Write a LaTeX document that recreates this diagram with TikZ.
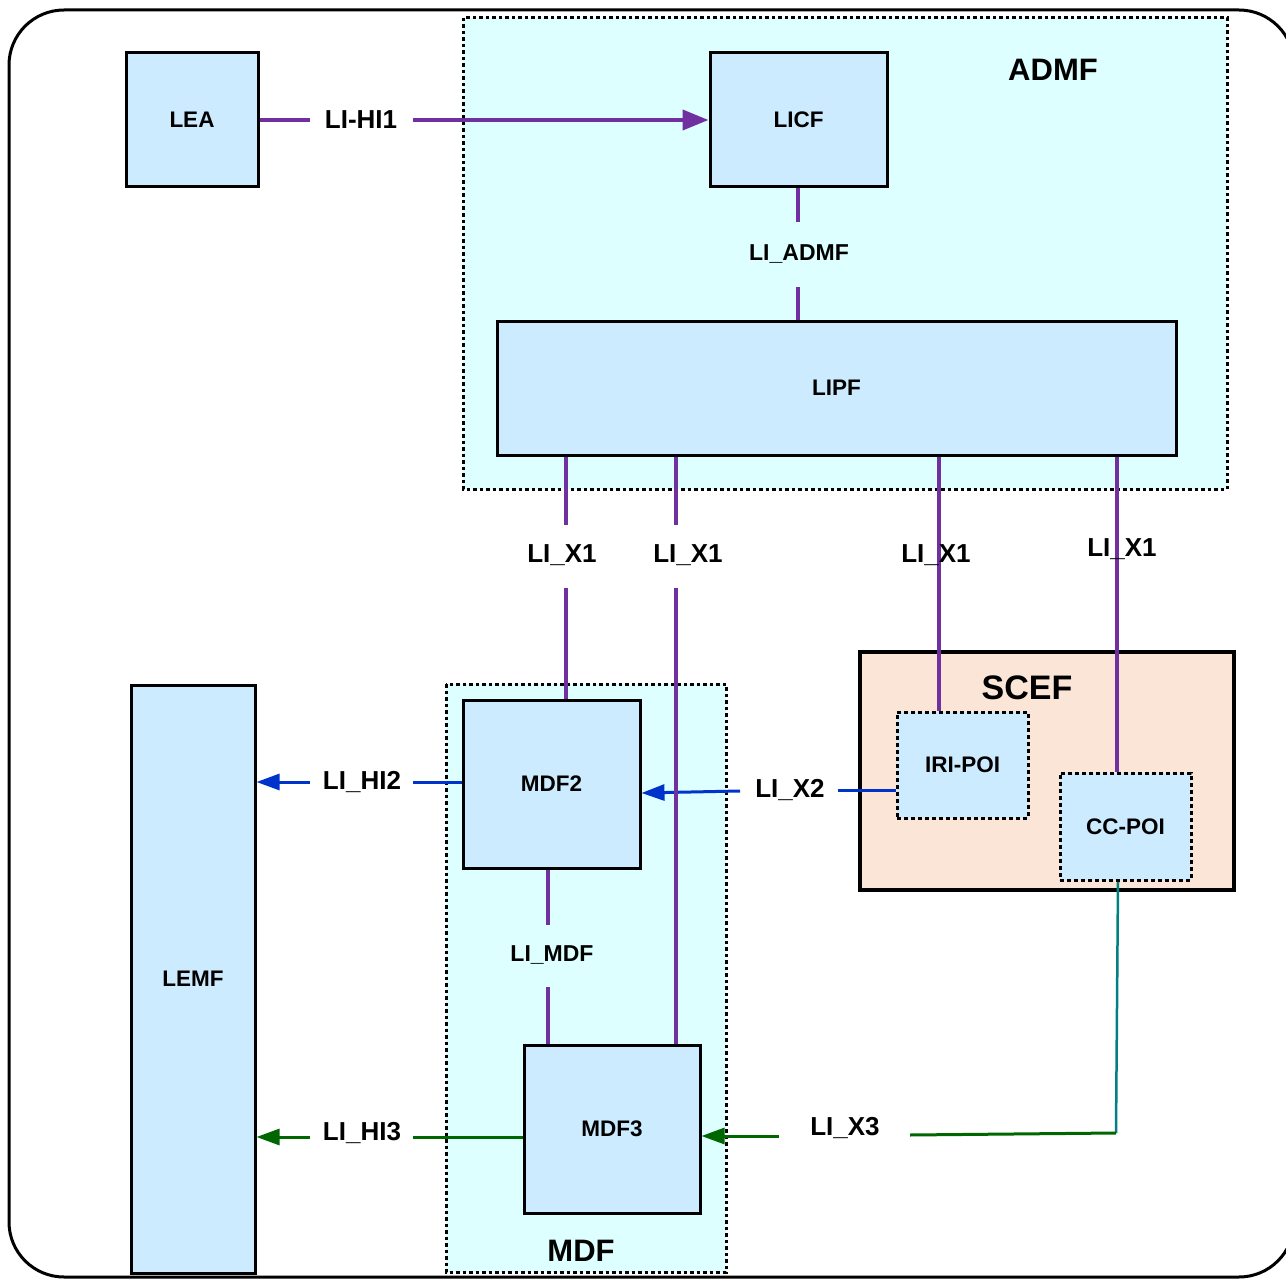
\documentclass[tikz,border=0pt]{standalone}
\usepackage{fontspec}
\setmainfont{Liberation Sans}
\usetikzlibrary{arrows.meta}
\definecolor{boxblue}{HTML}{CCEBFF}
\definecolor{regioncyan}{HTML}{DDFFFF}
\definecolor{scefpeach}{HTML}{FBE5D6}
\definecolor{lipurple}{HTML}{7030A0}
\definecolor{liblue}{HTML}{0033CC}
\definecolor{ligreen}{HTML}{006600}
\definecolor{liteal}{HTML}{008080}
\pgfdeclarelayer{regions}
\pgfdeclarelayer{wires}
\pgfsetlayers{regions,wires,main}
\begin{document}
\begin{tikzpicture}[x=1pt,y=-1pt,
  fbox/.style={draw=black, line width=3pt, fill=boxblue, inner sep=0pt,
    font=\fontsize{22.5}{26}\selectfont\bfseries},
  poibox/.style={fbox, dash pattern=on 4pt off 3pt},
  region/.style={draw=black, line width=3pt, fill=regioncyan, dash pattern=on 3.5pt off 3pt},
  lbl/.style={inner sep=0pt, font=\fontsize{26}{30}\selectfont\bfseries},
  lblsmall/.style={inner sep=0pt, font=\fontsize{23}{27}\selectfont\bfseries},
  title/.style={inner sep=0pt, font=\fontsize{31}{36}\selectfont\bfseries},
  purpleline/.style={draw=lipurple, line width=4pt},
  blueline/.style={draw=liblue, line width=3pt},
  greenline/.style={draw=ligreen, line width=3pt},
  tealline/.style={draw=liteal, line width=2.5pt},
  bigtip/.style={-{Triangle[length=26pt,width=20pt]}},
  smalltip/.style={-{Triangle[length=23pt,width=16pt]}}
]
\useasboundingbox (0,0) rectangle (1286,1279);
\clip (0,0) rectangle (1286,1279);

\begin{pgfonlayer}{regions}
% outer frame
\draw[line width=3pt, rounded corners=55pt] (9,10) rectangle (1294,1277);
% regions
\draw[region] (463,18) rectangle (1227,489);
\draw[region] (446,684) rectangle (726,1272);
\draw[black, line width=4.5pt, fill=scefpeach] (860,652) rectangle (1234,890);
\end{pgfonlayer}

\node[title] (admflabel) at (1053,70) {ADMF};
\node[title] (mdflabel) at (581,1251) {MDF};
\node[inner sep=0pt, font=\fontsize{34}{40}\selectfont\bfseries] (sceflabel) at (1027,688) {SCEF};

% boxes
\path
  node[fbox, minimum width=132pt, minimum height=134pt] (lea) at (192,120) {LEA}
  node[fbox, minimum width=177pt, minimum height=134pt] (licf) at (798.5,120) {LICF}
  node[fbox, minimum width=679pt, minimum height=134pt] (lipf) at (836.5,388) {LIPF}
  node[fbox, minimum width=177pt, minimum height=168pt] (mdf2) at (551.5,784) {MDF2}
  node[fbox, minimum width=176pt, minimum height=168pt] (mdf3) at (612,1129) {MDF3}
  node[fbox, minimum width=124pt, minimum height=588pt] (lemf) at (193,979) {LEMF}
  node[poibox, minimum width=131pt, minimum height=106pt] (iripoi) at (962.5,765) {IRI-POI}
  node[poibox, minimum width=131pt, minimum height=107pt] (ccpoi) at (1125.5,826.5) {CC-POI};

% connector labels
\node[lbl] (hi1) at (361,120) {LI-HI1};
\node[lblsmall] (liadmf) at (799,254) {LI\_ADMF};
\node[lbl] (x1a) at (562,555) {LI\_X1};
\node[lbl] (x1b) at (688,555) {LI\_X1};
\node[lbl] (x1c) at (936,555) {LI\_X1};
\node[lbl] (x1d) at (1122,549) {LI\_X1};
\node[lbl] (hi2) at (362,782) {LI\_HI2};
\node[lbl] (x2) at (790,790) {LI\_X2};
\node[lblsmall] (limdf) at (552,955) {LI\_MDF};
\node[lbl] (hi3) at (362,1133) {LI\_HI3};
\node[lbl] (x3) at (845,1128) {LI\_X3};

% gap coordinates
\coordinate (hi1a) at (310,120);
\coordinate (hi1b) at (413,120);
\coordinate (adma) at (798,222);
\coordinate (admb) at (798,287);
\coordinate (x1aa) at (566,525);
\coordinate (x1ab) at (566,588);
\coordinate (x1ba) at (676,525);
\coordinate (x1bb) at (676,588);
\coordinate (x1cs) at (939,455);
\coordinate (x1ds) at (1117,455);
\coordinate (hi2a) at (413,782);
\coordinate (hi2b) at (310,782);
\coordinate (x2a) at (838,790);
\coordinate (x2b) at (740,791);
\coordinate (x2end) at (640,793);
\coordinate (mdfa) at (548,925);
\coordinate (mdfb) at (548,987);
\coordinate (hi3a) at (413,1137);
\coordinate (hi3b) at (310,1137);
\coordinate (x3top) at (1118,0);
\coordinate (x3corner) at (1116,1133);
\coordinate (x3a) at (910,1135);
\coordinate (x3b) at (779,1136);

\begin{pgfonlayer}{wires}
\draw[blueline] (iripoi.west |- x2a) -- (x2a);
\draw[blueline, smalltip] (x2b) -- (mdf2.east |- x2end);
\draw[blueline] (mdf2.west |- hi2a) -- (hi2a);
\draw[blueline, smalltip] (hi2b) -- (lemf.east |- hi2b);

\draw[purpleline] (lea.east) -- (hi1a);
\draw[purpleline, bigtip] (hi1b) -- (licf.west);
\draw[purpleline] (licf.south -| adma) -- (adma);
\draw[purpleline] (admb) -- (admb |- lipf.north);
\draw[purpleline] (x1aa |- lipf.south) -- (x1aa);
\draw[purpleline] (x1ab) -- (x1ab |- mdf2.north);
\draw[purpleline] (x1ba |- lipf.south) -- (x1ba);
\draw[purpleline] (x1bb) -- (x1bb |- mdf3.north);
\draw[purpleline] (x1cs |- lipf.south) -- (x1cs |- iripoi.north);
\draw[purpleline] (x1ds |- lipf.south) -- (x1ds |- ccpoi.north);
\draw[purpleline] (mdf2.south -| mdfa) -- (mdfa);
\draw[purpleline] (mdfb) -- (mdfb |- mdf3.north);

\draw[greenline] (mdf3.west |- hi3a) -- (hi3a);
\draw[greenline, smalltip] (hi3b) -- (lemf.east |- hi3b);
\draw[tealline] (ccpoi.south -| x3top) -- (x3corner);
\draw[greenline] (x3corner) -- (x3a);
\draw[greenline, smalltip] (x3b) -- (mdf3.east |- x3b);
\end{pgfonlayer}
\end{tikzpicture}
\end{document}
